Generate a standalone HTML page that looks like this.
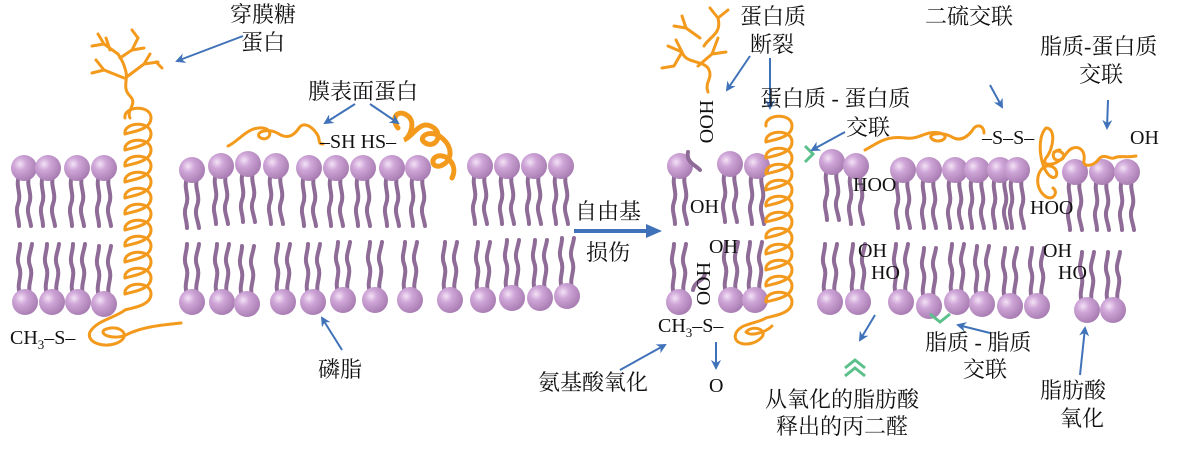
<!DOCTYPE html>
<html><head><meta charset="utf-8"><style>
html,body{margin:0;padding:0;background:#fff;}
svg{display:block}
text{font-family:"Liberation Serif","Noto Serif CJK SC",serif;fill:#111;}
.cn{font-size:22px}
.ch{font-size:20px}
.o{fill:none;stroke:#f39a1d;stroke-width:3;stroke-linecap:round;stroke-linejoin:round}
.ar{stroke:#3f72b8;stroke-width:2;fill:none;marker-end:url(#ah)}
.g{fill:none;stroke:#5cc08a;stroke-width:3}
</style></head><body>
<svg width="1179" height="458" viewBox="0 0 1179 458" xmlns="http://www.w3.org/2000/svg">
<defs>
<radialGradient id="hg" cx="0.35" cy="0.35" r="0.7">
<stop offset="0" stop-color="#f3e2f5"/><stop offset="0.35" stop-color="#cfa6d8"/><stop offset="1" stop-color="#a77bb1"/></radialGradient>
<marker id="ah" markerWidth="10" markerHeight="10" refX="8" refY="5" orient="auto" markerUnits="userSpaceOnUse"><path d="M0,0 L10,5 L0,10 L3,5z" fill="#3f72b8"/></marker>
<g id="lt">
<path d="M-5,8 c-4,10 3,18 -1,28 c-3,8 1,14 1,22 M5,8 c-3,10 4,18 0,28 c-3,8 1,14 2,22" fill="none" stroke="#8f6c98" stroke-width="4" stroke-linecap="round"/>
<circle r="13" fill="url(#hg)"/></g>
<g id="lb">
<path d="M-5,-8 c-4,-10 3,-18 -1,-28 c-3,-8 1,-14 1,-22 M5,-8 c-3,-10 4,-18 0,-28 c-3,-8 1,-14 2,-22" fill="none" stroke="#8f6c98" stroke-width="4" stroke-linecap="round"/>
<circle r="13" fill="url(#hg)"/></g>
<path id="hx" class="o" d="M0,0 c-2,-12 26,-14 26,0 c0,12 -20,14 -26,16"/>
</defs>

<g>
<use href="#lt" x="24" y="168"/><use href="#lt" x="48" y="168"/><use href="#lt" x="77" y="168"/><use href="#lt" x="104" y="168"/>
<use href="#lt" x="192" y="170"/><use href="#lt" x="221" y="166"/><use href="#lt" x="248" y="164"/><use href="#lt" x="276" y="166"/><use href="#lt" x="309" y="168"/><use href="#lt" x="336" y="168"/><use href="#lt" x="363" y="168"/><use href="#lt" x="392" y="168"/><use href="#lt" x="418" y="168"/>
<use href="#lt" x="480" y="166"/><use href="#lt" x="507" y="166"/><use href="#lt" x="534" y="166"/><use href="#lt" x="561" y="166"/>
</g>
<g>
<use href="#lb" x="25" y="302"/><use href="#lb" x="52" y="302"/><use href="#lb" x="78" y="302"/><use href="#lb" x="104" y="304"/>
<use href="#lb" x="192" y="302"/><use href="#lb" x="222" y="302"/><use href="#lb" x="247" y="304"/><use href="#lb" x="283" y="302"/><use href="#lb" x="313" y="302"/><use href="#lb" x="343" y="300"/><use href="#lb" x="375" y="300"/><use href="#lb" x="410" y="300"/>
<use href="#lb" x="450" y="300"/><use href="#lb" x="483" y="300"/><use href="#lb" x="512" y="298"/><use href="#lb" x="540" y="298"/><use href="#lb" x="567" y="296"/>
</g>

<g>
<use href="#lt" x="680" y="166"/><use href="#lt" x="730" y="164"/><use href="#lt" x="757" y="166"/>
<use href="#lt" x="832" y="162"/><use href="#lt" x="856" y="166"/>
<use href="#lt" x="903" y="170"/><use href="#lt" x="929" y="170"/><use href="#lt" x="955" y="170"/><use href="#lt" x="977" y="170"/><use href="#lt" x="1000" y="170"/><use href="#lt" x="1017" y="170"/>
<use href="#lt" x="1075" y="172"/><use href="#lt" x="1102" y="172"/><use href="#lt" x="1127" y="172"/>
</g>
<g>
<use href="#lb" x="679" y="302"/><use href="#lb" x="731" y="300"/><use href="#lb" x="755" y="300"/>
<use href="#lb" x="830" y="302"/><use href="#lb" x="858" y="302"/>
<use href="#lb" x="901" y="302"/><use href="#lb" x="929" y="306"/><use href="#lb" x="957" y="302"/><use href="#lb" x="982" y="304"/><use href="#lb" x="1010" y="306"/><use href="#lb" x="1037" y="306"/>
<use href="#lb" x="1087" y="310"/><use href="#lb" x="1113" y="310"/>
</g>

<!-- left helix -->
<g>
<use href="#hx" x="125" y="118"/><use href="#hx" x="125" y="134"/><use href="#hx" x="125" y="150"/><use href="#hx" x="125" y="166"/><use href="#hx" x="125" y="182"/><use href="#hx" x="125" y="198"/><use href="#hx" x="125" y="214"/><use href="#hx" x="125" y="230"/><use href="#hx" x="125" y="246"/><use href="#hx" x="125" y="262"/><use href="#hx" x="125" y="278"/><use href="#hx" x="125" y="294"/>
</g>
<path class="o" d="M125,310 c-10,8 -28,10 -35,22 c-5,12 20,18 32,8 c8,-8 -6,-16 -18,-10 c-5,5 10,10 22,5 c15,-8 35,-10 55,-12"/>
<path class="o" d="M130,118 c-4,-8 8,-14 0,-22 c-8,-8 -2,-16 -4,-24 c-2,-8 -4,-12 -8,-18 M118,54 l-14,-10 M104,44 l-6,-10 M104,44 l-12,2 M120,58 l12,-8 l6,-12 M132,50 l12,-2 M124,78 l-20,-8 l-8,-10 M104,70 l-12,3 M128,76 l16,-12 l14,-2 M144,64 l6,-10 M156,62 l6,6 M110,50 l-4,-12 M138,38 l-6,-8"/>
<path class="o" d="M228,146 c10,-4 20,-20 35,-18 c12,2 6,14 -2,10 c-8,-4 5,-12 18,-4 c10,6 16,0 20,-6 c4,-6 12,-3 18,6 c4,6 0,10 6,10"/>
<path d="M398,128 c-8,-10 0,-20 10,-12 c8,6 2,22 -4,24 c10,-4 16,-22 30,-12 c10,8 0,22 -10,14 c-6,-5 6,-14 18,-4 c12,10 10,24 -2,28 c-8,2 -10,-8 -2,-10 c10,-2 20,10 14,22" fill="none" stroke="#f39a1d" stroke-width="5" stroke-linecap="round"/>

<!-- right helix -->
<g>
<use href="#hx" x="766" y="126"/><use href="#hx" x="766" y="142"/><use href="#hx" x="766" y="158"/><use href="#hx" x="766" y="174"/><use href="#hx" x="766" y="190"/><use href="#hx" x="766" y="206"/><use href="#hx" x="766" y="222"/><use href="#hx" x="766" y="238"/><use href="#hx" x="766" y="254"/><use href="#hx" x="766" y="270"/><use href="#hx" x="766" y="286"/><use href="#hx" x="766" y="302"/>
</g>
<path class="o" d="M766,318 c-10,6 -25,5 -30,15 c-5,12 15,15 25,5 c8,-8 -8,-14 -15,-6 c5,5 20,0 26,-6"/>
<path class="o" d="M708,92 c-4,-10 6,-14 0,-24 c-6,-8 -22,-4 -26,-16 M682,52 l-14,-6 M682,52 l-6,-12 M682,52 l-8,14 l-12,2 M698,66 l14,-12 M712,54 l6,-16 M712,54 l14,-2 M704,46 c6,-10 18,-12 14,-28 M718,18 l-8,-10 M718,18 l10,-8 M700,38 l-14,-10 l-12,-2 M686,28 l-4,-12"/>
<path class="o" d="M865,150 c10,-5 20,-15 40,-12 c15,2 20,-8 35,-5 c12,3 0,12 -8,6 c-6,-5 10,-8 20,-2 c8,5 15,0 20,-6 c4,-8 12,-6 12,2"/>
<path class="o" d="M1046,128 c-10,10 -6,40 4,48 c8,6 10,-8 0,-10 c-12,-2 -18,20 -5,30 c8,6 14,-4 8,-8 M1046,128 c10,0 8,20 0,30 c-6,8 10,10 20,-4 c8,-12 20,-6 18,6 c-2,8 10,6 14,0 c6,-8 12,0 16,-2 c6,-3 12,0 22,-2"/>
<path class="o" d="M1060,150 c-10,0 -8,12 0,10 c8,-2 2,-12 -6,-8"/>

<path d="M700,170 c-6,-6 -14,-8 -12,-18" fill="none" stroke="#8f6c98" stroke-width="4" stroke-linecap="round"/>
<path d="M693,290 c2,-10 10,-8 12,-16" fill="none" stroke="#8f6c98" stroke-width="4" stroke-linecap="round"/>

<path class="g" d="M805,146 l8,8 l-8,8"/>
<path class="g" d="M845,368 l10,-8 l10,8 M845,376 l10,-8 l10,8"/>
<path class="g" d="M930,314 l10,8 l10,-8"/>

<path class="ar" d="M243,36 L177,61"/>
<path class="ar" d="M355,104 L325,123"/>
<path class="ar" d="M370,104 L398,123"/>
<path class="ar" d="M342,350 L322,318"/>
<path d="M574,231 L648,231" stroke="#3f72b8" stroke-width="4"/><path d="M646,224 L662,231 L646,238z" fill="#3f72b8"/>
<path class="ar" d="M750,56 L727,90"/>
<path class="ar" d="M770,58 L770,108"/>
<path class="ar" d="M845,132 L812,150"/>
<path class="ar" d="M990,85 L1002,107"/>
<path class="ar" d="M1108,100 L1107,128"/>
<path class="ar" d="M716,342 L716,368"/>
<path class="ar" d="M620,370 L665,345"/>
<path class="ar" d="M875,315 L860,340"/>
<path class="ar" d="M990,333 L958,325"/>
<path class="ar" d="M1080,375 L1085,328"/>

<text class="cn" x="230" y="22">穿膜糖</text>
<text class="cn" x="241" y="50">蛋白</text>
<text class="cn" x="308" y="99">膜表面蛋白</text>
<text class="ch" x="320" y="148">–SH HS–</text>
<text class="ch" x="10" y="344">CH<tspan font-size="13" dy="5">3</tspan><tspan dy="-5">–S–</tspan></text>
<text class="cn" x="318" y="377">磷脂</text>
<text class="cn" x="575" y="219">自由基</text>
<text class="cn" x="586" y="260">损伤</text>
<text class="cn" x="740" y="24">蛋白质</text>
<text class="cn" x="750" y="52">断裂</text>
<text class="cn" x="760" y="106">蛋白质 - 蛋白质</text>
<text class="cn" x="846" y="135">交联</text>
<text class="cn" x="925" y="24">二硫交联</text>
<text class="cn" x="1040" y="54">脂质-蛋白质</text>
<text class="cn" x="1079" y="82">交联</text>
<text class="ch" x="982" y="144">–S–S–</text>
<text class="ch" x="1130" y="144">OH</text>
<text class="ch" transform="translate(700,100) rotate(90)">HOO</text>
<text class="ch" x="690" y="213">OH</text>
<text class="ch" x="853" y="191">HOO</text>
<text class="ch" x="1030" y="214">HOO</text>
<text class="ch" x="709" y="253">OH</text>
<text class="ch" transform="translate(697,262) rotate(90)">HOO</text>
<text class="ch" x="858" y="257">OH</text>
<text class="ch" x="871" y="279">HO</text>
<text class="ch" x="1043" y="257">OH</text>
<text class="ch" x="1058" y="279">HO</text>
<text class="ch" x="658" y="332">CH<tspan font-size="13" dy="5">3</tspan><tspan dy="-5">–S–</tspan></text>
<text class="ch" x="709" y="392">O</text>
<text class="cn" x="538" y="390">氨基酸氧化</text>
<text class="cn" x="765" y="407">从氧化的脂肪酸</text>
<text class="cn" x="776" y="434">释出的丙二醛</text>
<text class="cn" x="925" y="350">脂质 - 脂质</text>
<text class="cn" x="963" y="377">交联</text>
<text class="cn" x="1040" y="398">脂肪酸</text>
<text class="cn" x="1060" y="426">氧化</text>
</svg>
</body></html>
